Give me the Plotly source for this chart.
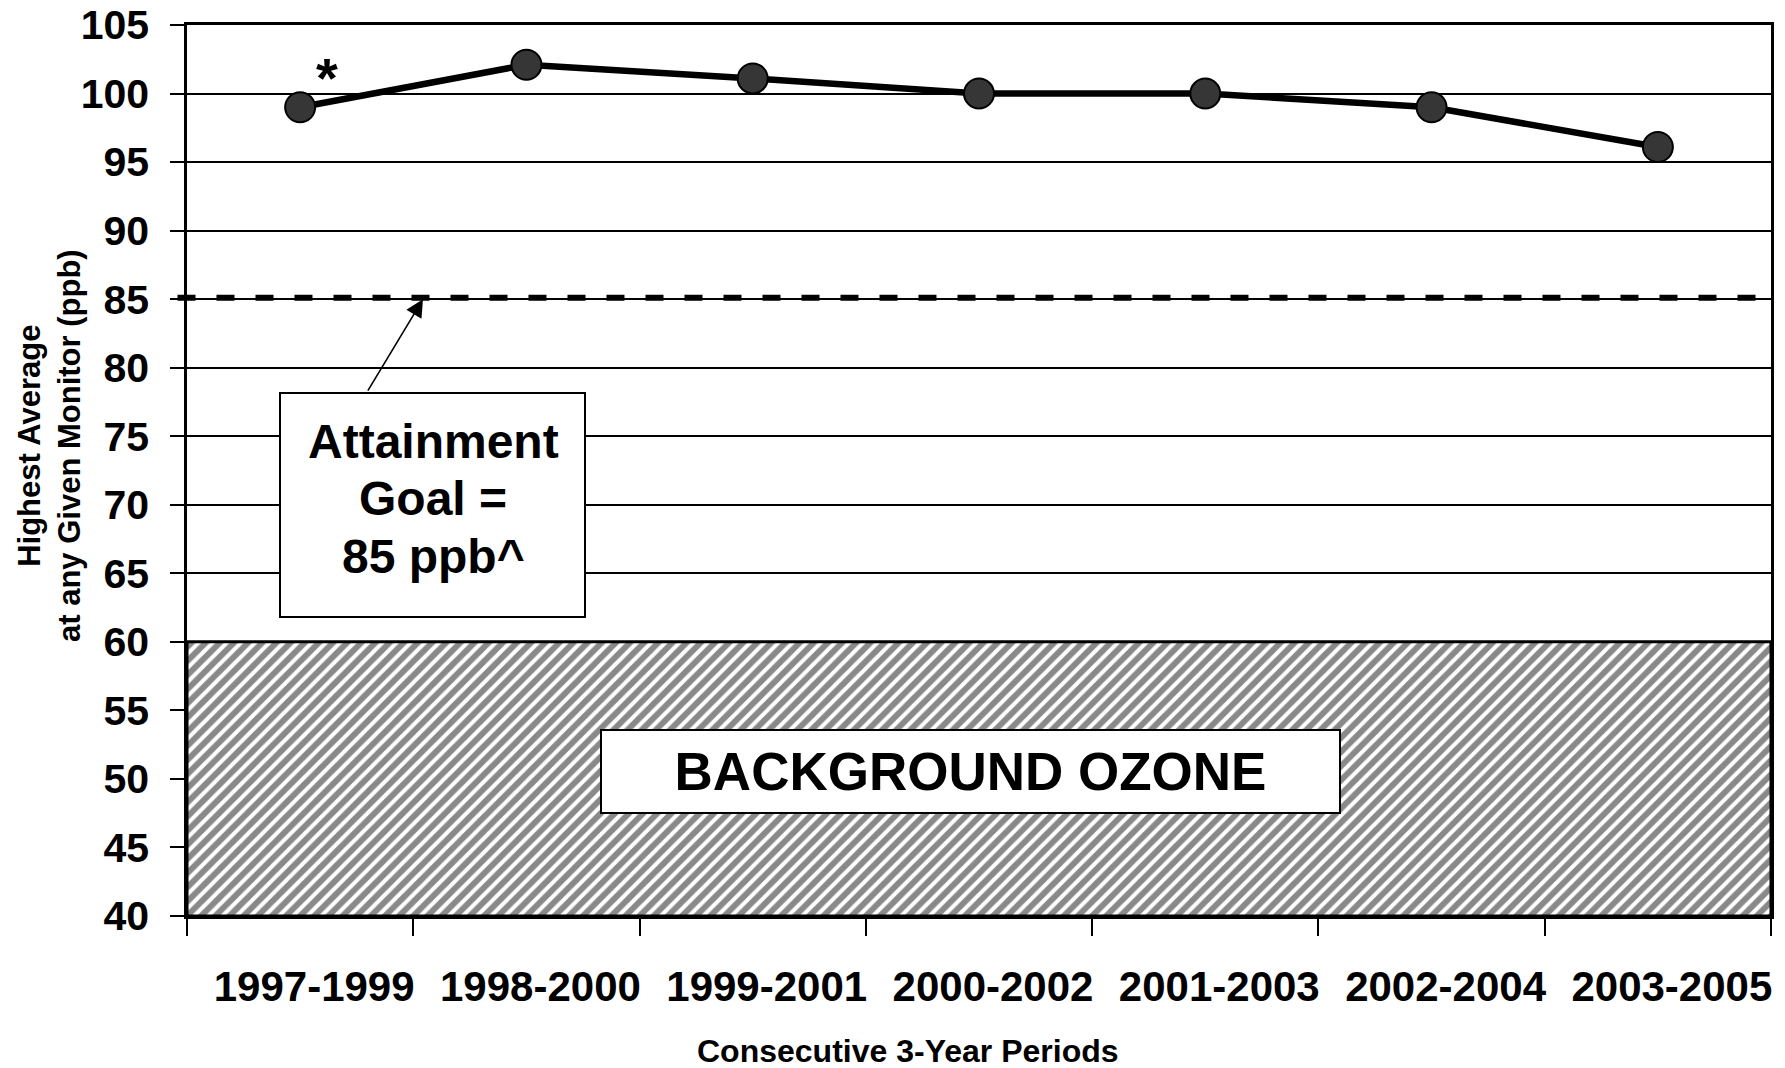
import plotly.graph_objects as go

# ---- data ----
periods = ["1997-1999", "1998-2000", "1999-2001", "2000-2002",
           "2001-2003", "2002-2004", "2003-2005"]
highest_avg_ppb = [99, 102.1, 101.1, 100, 100, 99, 96.1]
attainment_goal = 85
background_low = 40
background_high = 60
y_ticks = list(range(40, 106, 5))
goal_lines = ["Attainment", "Goal =", "85 ppb^"]

FONT = "Arial, Liberation Sans, sans-serif"

OFF = 8  # page body margin
W, H = 1769, 1060
L, R, T, B = 179, 6, 17, 152
pw, ph = W - L - R, H - T - B

def px_x(s):
    return (s - OFF - L) / pw

def px_y(s):
    return (H - B - (s - OFF)) / ph

fig = go.Figure()

# hatched background-ozone band on a hidden numeric axis spanning the categories
lo, hi = -0.5, len(periods) - 0.5
fig.add_trace(go.Scatter(
    x=[lo, hi, hi, lo, lo],
    y=[background_low, background_low, background_high, background_high, background_low],
    xaxis="x2", mode="lines", fill="toself",
    fillcolor="white",
    fillpattern=dict(shape="/", size=10, solidity=0.6, fgcolor="#141414", bgcolor="white"),
    line=dict(color="black", width=3),
    hoverinfo="skip", showlegend=False,
))

# main series
fig.add_trace(go.Scatter(
    x=periods, y=highest_avg_ppb, mode="lines+markers",
    line=dict(color="black", width=6.5),
    marker=dict(size=30, color="#363636", line=dict(color="black", width=2)),
    showlegend=False,
))

# attainment goal dashed line
fig.add_shape(type="line", xref="paper", yref="y", x0=-0.006, x1=1, y0=attainment_goal + 0.1,
              y1=attainment_goal + 0.1, line=dict(color="black", width=6, dash="18px,21px"))

# attainment goal box
fig.add_shape(type="rect", xref="paper", yref="paper", layer="above",
              x0=px_x(280), x1=px_x(585), y0=px_y(617), y1=px_y(393),
              fillcolor="white", line=dict(color="black", width=2))

annotations = [
    # asterisk over first point
    dict(x=periods[0], y=highest_avg_ppb[0], xref="x", yref="y", text="*", showarrow=False,
         xshift=27, yshift=30, font=dict(family=FONT, size=56, color="black", weight="bold")),
    # arrow to goal line
    dict(x=px_x(423), y=attainment_goal, xref="paper", yref="y", text="", showarrow=True,
         axref="pixel", ayref="pixel", ax=-56, ay=93, arrowhead=2, arrowsize=2.2,
         arrowwidth=1.6, arrowcolor="black"),
    # background ozone box
    dict(x=px_x(970.5), y=px_y(771.5), xref="paper", yref="paper",
         text="BACKGROUND OZONE", showarrow=False,
         xanchor="center", yanchor="middle", width=737, height=81,
         bgcolor="white", bordercolor="black", borderwidth=2, borderpad=0,
         font=dict(family=FONT, size=53, color="black", weight="bold")),
    # axis titles
    dict(x=px_x(908), y=px_y(1051), xref="paper", yref="paper",
         text="Consecutive 3-Year Periods", showarrow=False,
         xanchor="center", yanchor="middle",
         font=dict(family=FONT, size=32, color="black", weight="bold")),
    dict(x=px_x(50), y=px_y(446), xref="paper", yref="paper",
         text="Highest Average<br>at any Given Monitor (ppb)", showarrow=False,
         textangle=-90, xanchor="center", yanchor="middle",
         font=dict(family=FONT, size=31, color="black", weight="bold")),
]

# attainment goal text lines
for line_text, yc in zip(goal_lines, [441, 498, 556]):
    annotations.append(dict(
        x=px_x(433), y=px_y(yc), xref="paper", yref="paper", text=line_text,
        showarrow=False, xanchor="center", yanchor="middle",
        font=dict(family=FONT, size=48, color="black", weight="bold")))

fig.update_layout(
    width=W, height=H,
    margin=dict(l=L, r=R, t=T, b=B, autoexpand=False),
    paper_bgcolor="white", plot_bgcolor="white",
    annotations=annotations,
    xaxis=dict(type="category", categoryorder="array", categoryarray=periods,
               range=[lo, hi], tickson="boundaries", ticks="outside", ticklen=17,
               tickwidth=2, tickcolor="black", showgrid=False, showline=True,
               linecolor="black", linewidth=3, mirror=True, zeroline=False,
               automargin=False, ticklabelstandoff=32, ticklabelshift=14,
               ticklabeloverflow="allow",
               tickfont=dict(family=FONT, size=42, color="black", weight="bold")),
    xaxis2=dict(overlaying="x", range=[lo, hi], visible=False, automargin=False),
    yaxis=dict(range=[background_low, 105], tickvals=y_ticks, ticks="outside", ticklen=14,
               tickwidth=2, tickcolor="black", showgrid=True, gridcolor="black",
               gridwidth=2, showline=True, linecolor="black", linewidth=2.5,
               mirror=True, zeroline=False, automargin=False, ticklabelstandoff=13,
               ticklabeloverflow="allow",
               tickfont=dict(family=FONT, size=41, color="black", weight="bold")),
)

fig.write_html("out.html")
